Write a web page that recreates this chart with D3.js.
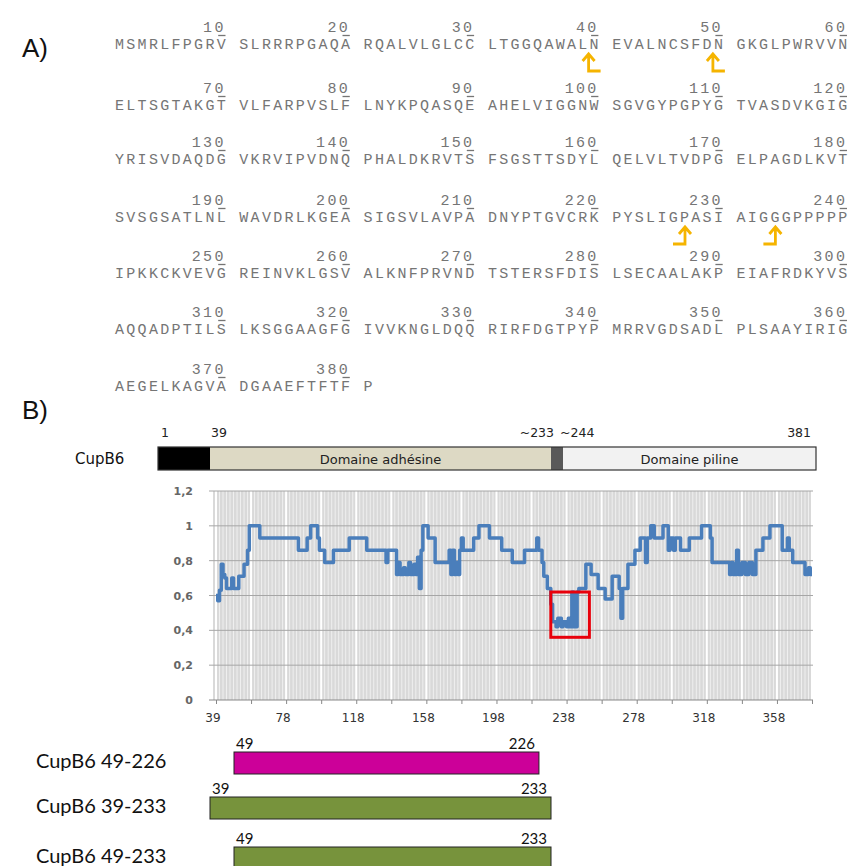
<!DOCTYPE html>
<html><head><meta charset="utf-8">
<script src="https://cdn.jsdelivr.net/npm/d3@7"></script>
<style>body{margin:0;background:#fff}</style>
</head><body><svg id="c" width="862" height="866"></svg>
<script>
// ---------- DATA ----------
const seqRows = [
 ["MSMRLFPGRV","SLRRRPGAQA","RQALVLGLCC","LTGGQAWALN","EVALNCSFDN","GKGLPWRVVN"],
 ["ELTSGTAKGT","VLFARPVSLF","LNYKPQASQE","AHELVIGGNW","SGVGYPGPYG","TVASDVKGIG"],
 ["YRISVDAQDG","VKRVIPVDNQ","PHALDKRVTS","FSGSTTSDYL","QELVLTVDPG","ELPAGDLKVT"],
 ["SVSGSATLNL","WAVDRLKGEA","SIGSVLAVPA","DNYPTGVCRK","PYSLIGPASI","AIGGGPPPPP"],
 ["IPKKCKVEVG","REINVKLGSV","ALKNFPRVND","TSTERSFDIS","LSECAALAKP","EIAFRDKYVS"],
 ["AQQADPTILS","LKSGGAAGFG","IVVKNGLDQQ","RIRFDGTPYP","MRRVGDSADL","PLSAAYIRIG"],
 ["AEGELKAGVA","DGAAEFTFTF","P"]
];
const arrowAfter = [39, 49, 226, 233];      // cleavage / construct sites
const arrowFoot  = [1, 1, -1, -1];          // direction of the arrow's foot

const domainStart = [1, 39, 233, 244];
const domainEnd   = [39, 233, 244, 381];
const domainName  = ["", "Domaine adhésine", "", "Domaine piline"];
const domainColor = ["#000000", "#ddd9c4", "#595959", "#f2f2f2"];
const domainTicks = ["1", "39", "~233", "~244", "381"];
const domainTickRes = [1, 39, 233, 244, 381];

const profRes = [39,40,41,42,43,44,45,48,49,52,55,57,58,64,86,91,93,97,98,101,106,115,125,136,137,142,143,144,146,147,149,150,152,153,154,155,156,157,160,164,172,173,174,175,176,177,178,179,180,186,189,195,202,208,215,222,223,225,226,228,230,231,233,234,236,237,239,240,241,242,243,245,246,250,253,257,261,265,269,270,271,274,278,281,284,285,287,289,294,297,298,300,301,304,309,316,321,322,332,333,334,336,337,339,341,343,345,347,351,355,362,365,366,368,375,377,378,379];
const profVal = [0.60,0.57,0.63,0.78,0.72,0.70,0.64,0.70,0.64,0.71,0.78,0.86,1.00,0.93,0.86,0.93,1.00,0.93,0.86,0.79,0.86,0.93,0.86,0.79,0.86,0.72,0.79,0.72,0.76,0.72,0.79,0.72,0.78,0.72,0.82,0.64,0.86,1.00,0.93,0.79,0.86,0.72,0.86,0.72,0.79,0.72,0.86,0.93,0.86,0.93,1.00,0.93,0.86,0.79,0.86,0.93,0.86,0.79,0.71,0.64,0.55,0.45,0.42,0.47,0.42,0.45,0.42,0.47,0.42,0.62,0.42,0.62,0.64,0.78,0.72,0.64,0.58,0.71,0.64,0.47,0.64,0.78,0.86,0.93,0.79,0.93,1.00,0.93,1.00,0.86,0.93,0.86,0.93,0.86,0.93,1.00,0.93,0.79,0.72,0.79,0.72,0.86,0.72,0.79,0.72,0.79,0.72,0.86,0.93,1.00,0.86,0.93,0.86,0.79,0.72,0.76,0.72,0.72];
const yTicks = [0, 0.2, 0.4, 0.6, 0.8, 1, 1.2];
const xTickLabels = ["39","78","118","158","198","238","278","318","358"];
const boxRes = [230, 252];
const boxVal = [0.36, 0.62];

const constructName  = ["CupB6 49-226", "CupB6 39-233", "CupB6 49-233"];
const constructStart = [49, 39, 49];
const constructEnd   = [226, 233, 233];
const constructColor = ["#cc0099", "#77933c", "#77933c"];

// ---------- DRAW ----------
const svg = d3.select("#c");

// Panel letters
svg.append("text").attr("x", 22).attr("y", 57).text("A)")
  .attr("font-family", "Liberation Sans, Arial").attr("font-size", 26).attr("fill", "#111");
svg.append("text").attr("x", 22).attr("y", 419).text("B)")
  .attr("font-family", "Liberation Sans, Arial").attr("font-size", 26).attr("fill", "#111");

// Sequence
const cw = 11.3;                         // character advance
const fs = 15;
const seqX0 = 115;
const rowBase = [49, 110, 164, 222, 278, 334, 391];
const seqFont = "Liberation Mono, Courier New, monospace";
const seqCol = "#757575";
const seqG = svg.append("g");
seqRows.forEach((blocks, r) => {
  blocks.forEach((blk, b) => {
    const x0 = seqX0 + b * 11 * cw;
    const y = rowBase[r];
    seqG.append("text").attr("x", x0).attr("y", y).text(blk)
      .attr("font-family", seqFont).attr("font-size", fs)
      .attr("letter-spacing", cw - fs * 0.6).attr("fill", seqCol);
    if (blk.length === 10) {
      const num = (r * 6 + b + 1) * 10;
      const xe = x0 + 10 * cw;
      seqG.append("text").attr("x", xe - (cw - fs * 0.6)).attr("y", y - 17).text(num)
        .attr("text-anchor", "end").attr("font-family", seqFont).attr("font-size", fs)
        .attr("letter-spacing", cw - fs * 0.6).attr("fill", seqCol);
      seqG.append("line").attr("x1", xe - cw + 1.5).attr("x2", xe - 2.5)
        .attr("y1", y - 13.5).attr("y2", y - 13.5).attr("stroke", seqCol).attr("stroke-width", 1.3);
    }
  });
});
// Arrows
arrowAfter.forEach((res, i) => {
  const r = Math.floor((res - 1) / 60);
  const within = res - r * 60;
  const b = Math.floor((within - 1) / 10);
  const c = within - b * 10;
  const x = seqX0 + b * 11 * cw + c * cw + (arrowFoot[i] < 0 ? 5 : -1);
  const y = rowBase[r];
  const top = y + 5, bot = y + 22, f = arrowFoot[i];
  svg.append("path")
    .attr("d", `M${x - 6},${top + 7}L${x},${top}L${x + 6},${top + 7}M${x},${top}L${x},${bot}L${x + f * 12},${bot}`)
    .attr("fill", "none").attr("stroke", "#f5b400").attr("stroke-width", 2.8);
});

// Domain bar
const xd = d3.scaleLinear().domain([1, 39, 233, 244, 381]).range([158, 210, 551, 563, 816]);
const barY = 447, barH = 23;
svg.append("text").attr("x", 75).attr("y", 464).text("CupB6")
  .attr("font-family", "DejaVu Sans, Verdana").attr("font-size", 15).attr("fill", "#111");
domainStart.forEach((s, i) => {
  svg.append("rect").attr("x", xd(s)).attr("y", barY).attr("width", xd(domainEnd[i]) - xd(s))
    .attr("height", barH).attr("fill", domainColor[i]);
  if (domainName[i]) svg.append("text").attr("x", (xd(s) + xd(domainEnd[i])) / 2).attr("y", barY + 17)
    .attr("text-anchor", "middle").text(domainName[i])
    .attr("font-family", "DejaVu Sans, Verdana").attr("font-size", 13).attr("fill", "#222");
});
svg.append("rect").attr("x", xd(1)).attr("y", barY).attr("width", xd(381) - xd(1)).attr("height", barH)
  .attr("fill", "none").attr("stroke", "#333").attr("stroke-width", 1.2);
const dAnchor = ["start", "start", "end", "start", "end"];
const dOff = [3, 1, 3, -3, -5];
domainTicks.forEach((t, i) => {
  svg.append("text").attr("x", xd(domainTickRes[i]) + dOff[i]).attr("y", 437).text(t)
    .attr("text-anchor", dAnchor[i]).attr("font-family", "DejaVu Sans, Verdana")
    .attr("font-size", 12.5).attr("fill", "#222");
});

// Profile chart
const px0 = 213, px1 = 813;
const x = d3.scaleLinear().domain([39, 379]).range([216, 812]);
const y = d3.scaleLinear().domain([0, 1.2]).range([700, 491]);
const ch = svg.append("g");
ch.append("rect").attr("x", px0).attr("y", y(1.2)).attr("width", px1 - px0).attr("height", y(0) - y(1.2)).attr("fill", "#d9d9d9");
for (let r = 39; r <= 379; r += 2) {
  const major = (r - 39) % 20 === 0;
  ch.append("line").attr("x1", x(r)).attr("x2", x(r)).attr("y1", y(1.2)).attr("y2", y(0))
    .attr("stroke", "#fff").attr("stroke-width", major ? 2 : 0.8).attr("stroke-opacity", major ? 1 : 0.75);
}
yTicks.forEach(v => {
  ch.append("line").attr("x1", px0 - 4).attr("x2", px1).attr("y1", y(v)).attr("y2", y(v))
    .attr("stroke", v === 0 ? "#888" : "#a6a6a6").attr("stroke-width", 1);
  ch.append("text").attr("x", 193).attr("y", y(v) + 4).attr("text-anchor", "end")
    .text(String(v).replace(".", ",")).attr("font-family", "DejaVu Sans, Verdana")
    .attr("font-size", 11).attr("font-weight", "bold").attr("fill", "#666");
});
const xAxis = d3.axisBottom(x).tickValues(d3.range(39, 380, 20)).tickSize(4).tickFormat(() => "");
const xa = ch.append("g").attr("transform", `translate(0,${y(0)})`).call(xAxis);
xa.select(".domain").remove();
xa.selectAll("line").attr("stroke", "#888");
xTickLabels.forEach((t, i) => {
  ch.append("text").attr("x", x(39 + 40 * i) - 3).attr("y", 722).attr("text-anchor", "middle").text(t)
    .attr("font-family", "DejaVu Sans, Verdana").attr("font-size", 12).attr("fill", "#333");
});
const line = d3.line().x((d, i) => x(profRes[i])).y((d, i) => y(profVal[i])).curve(d3.curveStepAfter);
ch.append("path").datum(profVal).attr("d", line).attr("fill", "none")
  .attr("stroke", "#4a7ebb").attr("stroke-width", 3.5).attr("stroke-linejoin", "round");
ch.append("rect").attr("x", x(boxRes[0])).attr("y", y(boxVal[1])).attr("width", x(boxRes[1]) - x(boxRes[0]))
  .attr("height", y(boxVal[0]) - y(boxVal[1])).attr("fill", "none").attr("stroke", "#e8000b").attr("stroke-width", 3);

// Constructs
const xc = d3.scaleLinear().domain([39, 49, 233]).range([210, 234, 551]);
const cY = [752, 797, 847];
constructName.forEach((n, i) => {
  svg.append("text").attr("x", 36).attr("y", cY[i] + 16).text(n)
    .attr("font-family", "Lato, Carlito, sans-serif").attr("font-size", 20).attr("fill", "#111");
  svg.append("rect").attr("x", xc(constructStart[i])).attr("y", cY[i])
    .attr("width", xc(constructEnd[i]) - xc(constructStart[i])).attr("height", 22)
    .attr("fill", constructColor[i]).attr("stroke", "#222").attr("stroke-width", 1);
  svg.append("text").attr("x", xc(constructStart[i]) + 2).attr("y", cY[i] - 3).text(constructStart[i])
    .attr("font-family", "Lato, sans-serif").attr("font-size", 15).attr("fill", "#111");
  svg.append("text").attr("x", xc(constructEnd[i]) - 4).attr("y", cY[i] - 3).text(constructEnd[i])
    .attr("text-anchor", "end").attr("font-family", "Lato, sans-serif").attr("font-size", 15).attr("fill", "#111");
});
</script></body></html>
